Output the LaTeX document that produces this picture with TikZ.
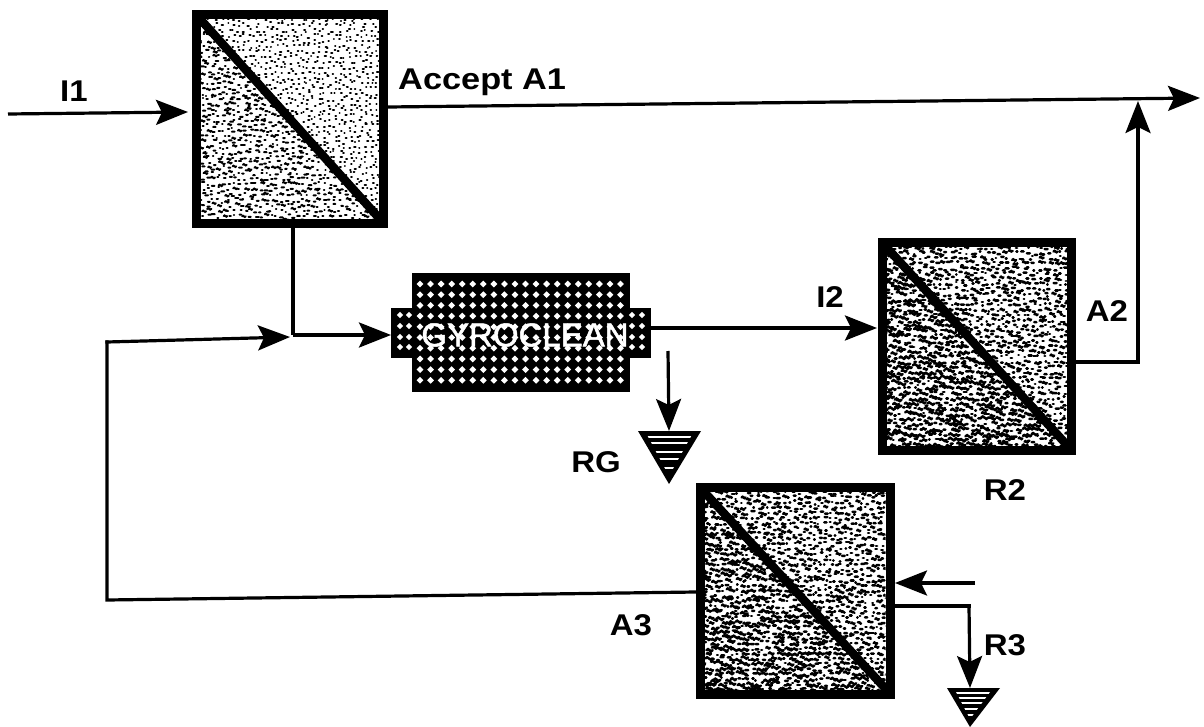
\documentclass[tikz,border=0pt]{standalone}
\usepackage{fontspec}
\setmainfont{Liberation Sans}
\usetikzlibrary{arrows.meta}
\tikzset{
  flow/.style={line width=3.2pt,-{Stealth[length=32pt,width=25pt,inset=6pt]}},
  plainline/.style={line width=3.2pt},
  sepbox/.style={draw=black,line width=9pt,fill=white,inner sep=0pt},
  lbl/.style={font=\fontsize{30}{30}\bfseries\selectfont,inner sep=0pt,text=black,xscale=1.1},
  grit/.style={line cap=round,black},
}
\newcommand{\gritw}{2.4}
\newcommand{\sepunit}[9]{%
  % name, cx, cy, w, h, grid step, upper length, lower length, seed
  \node[sepbox,minimum width=#4pt,minimum height=#5pt] (#1) at (#2,#3) {};
  \begin{scope}
    \clip (#2-#4/2+4.5,#3-#5/2+4.5) rectangle (#2+#4/2-4.5,#3+#5/2-4.5);
    \pgfmathsetseed{#9}
    \pgfmathtruncatemacro\nx{#4/#6}
    \pgfmathtruncatemacro\ny{#5/#6}
    \foreach \i in {0,...,\nx}{
      \foreach \j in {0,...,\ny}{
        \pgfmathsetmacro\px{#2-#4/2+\i*#6+(rnd-.5)*#6*.8}
        \pgfmathsetmacro\py{#3-#5/2+\j*#6+(rnd-.5)*#6*.8}
        \pgfmathsetmacro\upper{(\i/\nx>\j/\ny)?1:0}
        \pgfmathsetmacro\len{\upper>0.5?#7:#8}
        \pgfmathsetmacro\lenb{\len*(0.05+1.0*rnd)}
        \draw[grit,line width=\gritw pt] (\px,\py) .. controls +(\lenb*.33,-\lenb*.6) and +(-\lenb*.33,\lenb*.6) .. +(\lenb,0);
      }
    }
  \end{scope}
  \begin{scope}
    \clip (#2-#4/2,#3-#5/2) rectangle (#2+#4/2,#3+#5/2);
    \draw[line width=8.5pt] (#1.north west) -- (#1.south east);
  \end{scope}
}
\newcommand{\sinktri}[7]{%
  % left x, right x, top y, apex x, apex y, name, line ys
  \coordinate (#6) at (#4,#3);
  \fill[black] (#1,#3) -- (#2,#3) -- (#4,#5) -- cycle;
  \begin{scope}
    \clip (#1+7,#3) -- (#2-7,#3) -- (#4,#5-8) -- cycle;
    \foreach \yy in {#7}{\draw[white,line width=1.1pt] (#1,\yy) -- (#2,\yy);}
  \end{scope}
}
\begin{document}
\begin{tikzpicture}[x=1pt,y=-1pt]
\useasboundingbox (0,0) rectangle (1204,727);
\fill[white] (0,0) rectangle (1204,727);

% separators
\renewcommand{\gritw}{2.0}
\sepunit{sepa}{290}{119}{187}{209}{5.3}{1.4}{4}{11}
\renewcommand{\gritw}{2.5}
\sepunit{sepb}{977}{346.5}{189}{208}{5.2}{4}{7}{23}
\sepunit{sepc}{795}{590.5}{190}{207}{5.2}{4}{7}{37}

% GYROCLEAN unit
\fill[black] (391,308) rectangle (651,358);
\node[minimum width=218pt,minimum height=119pt,fill=black,inner sep=0pt] (gyro) at (521,332.5) {};
\foreach \c in {0,...,19}{
  \foreach \r in {0,...,9}{
    \pgfmathsetmacro\gx{420+\c*10.55}
    \pgfmathsetmacro\gy{284+\r*10.7}
    \fill[white] (\gx-3.4,\gy) -- (\gx,\gy-3.4) -- (\gx+3.4,\gy) -- (\gx,\gy+3.4) -- cycle;
  }
}
\fill[black] (412,388) rectangle (630,392);
\foreach \gx in {400,409,632,642}{
  \foreach \gy in {315,326,337,347}{
    \fill[white] (\gx-3.2,\gy) -- (\gx,\gy-3.2) -- (\gx+3.2,\gy) -- (\gx,\gy+3.2) -- cycle;
  }
}
\node[font=\fontsize{33}{33}\selectfont,text=white,inner sep=0pt] (gyrotext) at (525,335) {\addfontfeature{FakeBold=1.5}GYROCLEAN};

% sinks
\sinktri{638}{701}{431}{669}{484}{rgsink}{437,443,452,459,468}
\sinktri{947}{1000}{688}{970}{727}{rthree}{693,698,703,709,715}

% free ends and bends
\coordinate (iin) at (8,114);
\coordinate (iinend) at (188,112);
\coordinate (acceptstart) at (388,107);
\coordinate (acceptend) at (1200,98);
\coordinate (sepabot) at (293,228);
\coordinate (junc) at (293,335);
\coordinate (gyroin) at (391,335);
\coordinate (recstart) at (696,592);
\coordinate (reccorner) at (107,600);
\coordinate (recup) at (107,342);
\coordinate (recend) at (290,337);
\coordinate (gyroout) at (651,328);
\coordinate (itwoend) at (877,328);
\coordinate (atwostart) at (1076,362);
\coordinate (atwocorner) at (1138,362);
\coordinate (atwoend) at (1138,101);
\coordinate (rgstart) at (668,351);
\coordinate (rthreein) at (975,583);
\coordinate (rthreeinend) at (895,583);
\coordinate (rthreestart) at (894,606);
\coordinate (rthreecorner) at (969,606);

% connectors
\draw[flow] (iin) -- (iinend);
\draw[flow] (acceptstart) -- (acceptend);
\draw[plainline] (sepabot) -- (junc);
\draw[flow] (junc) -- (gyroin);
\draw[plainline,line cap=rect] (recstart) -- (reccorner) -- (recup);
\draw[flow,line cap=rect] (recup) -- (recend);
\draw[flow] (gyroout) -- (itwoend);
\draw[plainline,line cap=rect] (atwostart) -- (atwocorner);
\draw[flow,line cap=rect] (atwocorner) -- (atwoend);
\draw[flow] (rgstart) -- (rgsink);
\draw[flow] (rthreein) -- (rthreeinend);
\draw[plainline,line cap=rect] (rthreestart) -- (rthreecorner);
\draw[flow,line cap=rect] (rthreecorner) -- (rthree);

% labels
\node[lbl] (li1) at (74,91) {I1};
\node[lbl,anchor=west,xscale=1.04] (laccept) at (398,82) {Accept A1};
\node[lbl] (li2) at (830,297) {I2};
\node[lbl] (la2) at (1107,311) {A2};
\node[lbl] (lrg) at (596,462) {RG};
\node[lbl] (lr2) at (1005,490) {R2};
\node[lbl] (la3) at (631,625) {A3};
\node[lbl] (lr3) at (1005,645) {R3};
\end{tikzpicture}
\end{document}
